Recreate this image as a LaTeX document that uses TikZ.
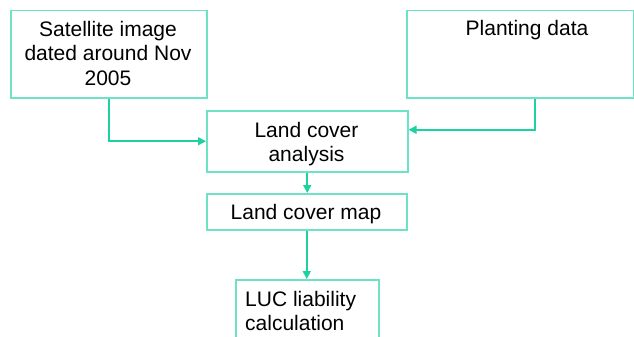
\documentclass[tikz,border=0pt]{standalone}
\usepackage{fontspec}
\setmainfont{Liberation Sans}
\usetikzlibrary{arrows.meta}
\definecolor{boxc}{HTML}{6EE2C4}
\definecolor{arrc}{HTML}{1ED2A0}
\begin{document}
\begin{tikzpicture}[x=1pt,y=-1pt,
  box/.style={draw=boxc, line width=1.5pt, inner sep=0pt, anchor=north west},
  txt/.style={font=\fontsize{21}{24.5}\selectfont, inner sep=0pt, align=center, anchor=base},
  conn/.style={draw=arrc, line width=1.6pt, -{Triangle[length=8pt,width=8pt]}}]
\useasboundingbox (0,0) rectangle (634,337);
\fill[white] (0,0) rectangle (634,337);
\node[box, minimum width=196pt, minimum height=87pt] (sat) at (10,10) {};
\node[box, minimum width=227pt, minimum height=87pt] (plant) at (406,10) {};
\node[box, minimum width=201pt, minimum height=61pt] (lca) at (206,110) {};
\node[box, minimum width=200pt, minimum height=36pt] (map) at (206,193) {};
\node[box, minimum width=143pt, minimum height=80pt] (luc) at (235,279) {};
\node[txt] (satt) at (108,85) {Satellite image\\dated around Nov\\2005};
\node[txt] (plantt) at (527,36) {Planting data};
\node[txt] (lcat) at (306.5,161.5) {Land cover\\analysis};
\node[txt] (mapt) at (306,219) {Land cover map};
\node[txt, align=left, anchor=base west] (luct) at (245,330.5) {LUC liability\\calculation};
\coordinate (p1) at ([xshift=14.5pt]plant.south);
\coordinate (p2) at ([yshift=11.5pt]lca.east);
\draw[conn] (sat.south) |- (lca.west);
\draw[conn] (p1) |- (p2);
\draw[conn] (lca.south) -- (map.north -| lca.south);
\draw[conn] (map.south) -- (luc.north -| map.south);
\end{tikzpicture}
\end{document}
